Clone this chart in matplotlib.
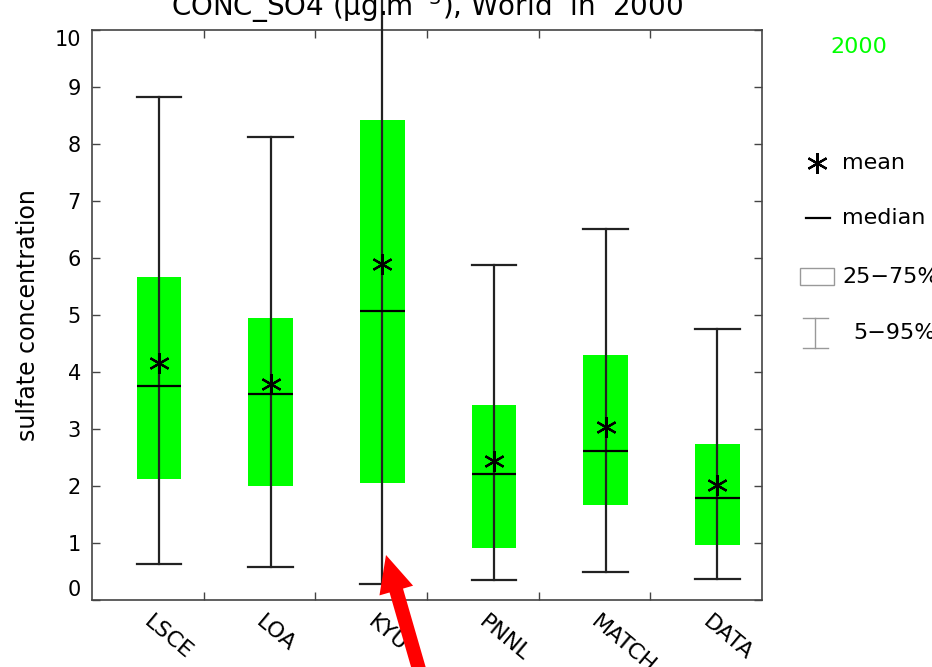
"""
Box plot of sulfate concentration per model (World, 2000) with an annotation arrow.
"""

import matplotlib
matplotlib.use("Agg")
import matplotlib.pyplot as plt
from matplotlib.lines import Line2D
from matplotlib.patches import Rectangle, FancyArrow

# --- DATA ---
models = ["LSCE", "LOA", "KYU", "PNNL", "MATCH", "DATA"]
p05 = [0.63, 0.58, 0.28, 0.35, 0.49, 0.37]
p25 = [2.12, 2.00, 2.05, 0.91, 1.67, 0.96]
medians = [3.75, 3.61, 5.07, 2.21, 2.61, 1.79]
means = [4.16, 3.79, 5.89, 2.44, 3.04, 2.02]
p75 = [5.67, 4.95, 8.42, 3.42, 4.30, 2.74]
p95 = [8.82, 8.12, 12.5, 5.88, 6.51, 4.75]

GREEN = "#00ff00"
FRAME = "#444444"
W, H = 932, 667

fig = plt.figure(figsize=(W / 100, H / 100), dpi=100)
ax = fig.add_axes([92 / W, 1 - 600 / H, 670 / W, 570 / H])


def px(x, y):
    # pixel position measured from top-left -> figure fraction
    return x / W, 1 - y / H


xpos = [i + 0.6 for i in range(len(models))]
bw = 0.4

# boxes, whiskers, caps, medians
ax.bar(xpos, [hi - lo for lo, hi in zip(p25, p75)], bottom=p25, width=bw,
       color=GREEN, edgecolor="none", zorder=2)
for x, lo, hi in zip(xpos, p05, p95):
    ax.plot([x, x], [lo, hi], color="#222222", lw=1.6, zorder=3, clip_on=False)
    ax.plot([x - bw / 2, x + bw / 2], [lo, lo], color="#222222", lw=1.6, zorder=3)
    if hi <= 10:
        ax.plot([x - bw / 2, x + bw / 2], [hi, hi], color="#222222", lw=1.6, zorder=3)
ax.hlines(medians, [x - bw / 2 for x in xpos], [x + bw / 2 for x in xpos],
          color="black", lw=1.6, zorder=4)
ax.plot(xpos, means, linestyle="none", marker=(6, 2, 0), markersize=15,
        markeredgewidth=1.6, color="black", zorder=5)

# axes styling
ax.set_xlim(0, 6)
ax.set_ylim(0, 10)
ax.set_yticks(range(0, 11))
ax.set_xticks(range(1, 6))
ax.set_xticklabels([])
ax.tick_params(direction="in", top=True, right=True, length=6, width=1,
               color=FRAME, labelsize=15, pad=8)
for s in ax.spines.values():
    s.set_color(FRAME)
    s.set_linewidth(1.2)
ylabs = ax.get_yticklabels()
ylabs[0].set_va("bottom")
ylabs[-1].set_va("top")
ax.set_ylabel("sulfate concentration", fontsize=17, labelpad=10)

for x, name in zip(xpos, models):
    ax.text(x - 0.05, -0.02, name, transform=ax.get_xaxis_transform(),
            rotation=-40, rotation_mode="anchor", ha="left", va="top",
            fontsize=16)

# title, cut off at the top edge like the reference
fig.text(*px(427, 16), "CONC_SO4 (\u03bcg.m$^{-3}$), World  in  2000",
         ha="center", va="baseline", fontsize=20)

# legend block on the right
fig.text(*px(830, 47), "2000", color=GREEN, fontsize=16, va="center", ha="left")
fig.add_artist(Line2D(*zip(px(817, 163)), marker=(6, 2, 0), markersize=15,
                      markeredgewidth=1.6, color="black", transform=fig.transFigure))
fig.text(*px(842, 163), "mean", fontsize=16, va="center")
(x0, y0), (x1, y1) = px(806, 218), px(830, 218)
fig.add_artist(Line2D([x0, x1], [y0, y1], color="black", lw=1.6,
                      transform=fig.transFigure))
fig.text(*px(842, 218), "median", fontsize=16, va="center")
rx, ry = px(800, 285)
fig.add_artist(Rectangle((rx, ry), 34 / W, 17 / H, fill=False, edgecolor="#999999",
                         lw=1, transform=fig.transFigure))
fig.text(*px(842, 277), "25\u221275%", fontsize=16, va="center")
for (a, b) in [((815, 318), (815, 348)), ((803, 318), (828, 318)), ((803, 348), (828, 348))]:
    (xa, ya), (xb, yb) = px(*a), px(*b)
    fig.add_artist(Line2D([xa, xb], [ya, yb], color="#999999", lw=1,
                          transform=fig.transFigure))
fig.text(*px(853, 333), "5\u221295%", fontsize=16, va="center")

# red arrow pointing at the KYU lower whisker
tip = (386 / 100, (H - 555) / 100)
tail = (425 / 100, (H - 690) / 100)
fig.add_artist(FancyArrow(tail[0], tail[1], tip[0] - tail[0], tip[1] - tail[1],
                          width=0.14, head_width=0.35, head_length=0.37,
                          length_includes_head=True, color="red", lw=0,
                          transform=fig.dpi_scale_trans, zorder=10))

plt.savefig("out.png", dpi=100)
